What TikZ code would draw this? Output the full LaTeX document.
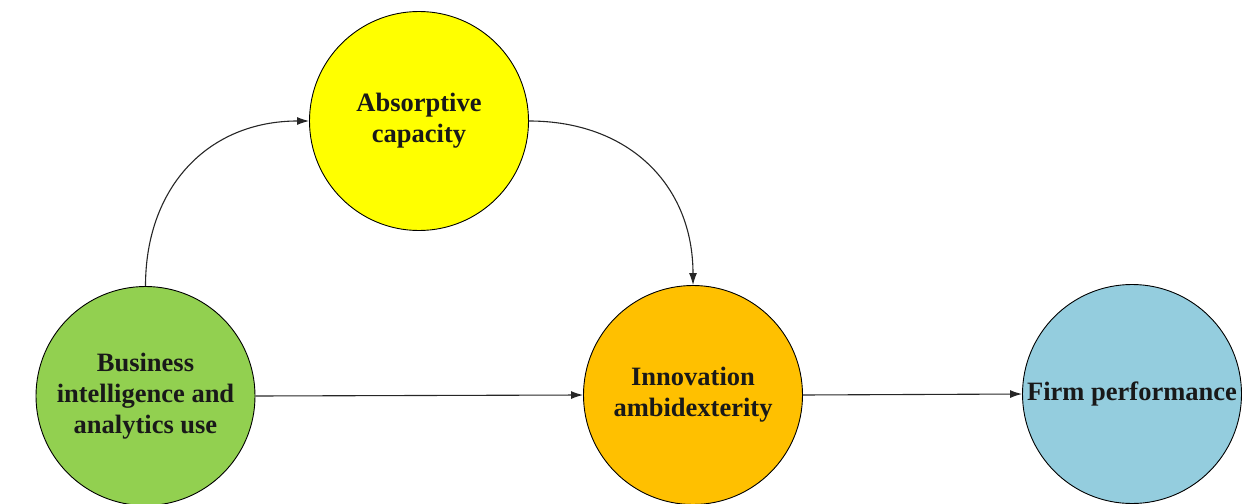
\documentclass[tikz,border=0pt]{standalone}
\usepackage{fontspec}
\setmainfont{Liberation Serif}
\usetikzlibrary{arrows.meta}
\definecolor{cgreen}{RGB}{146,208,80}
\definecolor{cyellow}{RGB}{255,255,0}
\definecolor{corange}{RGB}{255,192,0}
\definecolor{cblue}{RGB}{148,205,222}
\begin{document}
\begin{tikzpicture}[x=1pt,y=-1pt,
  blob/.style={circle, draw=black, line width=0.9pt, minimum size=219pt, inner sep=0pt,
    align=center, text=black!90, font=\fontsize{26.5}{31}\selectfont\bfseries},
  conn/.style={line width=1.1pt, draw=black!85, -{Latex[length=12pt,width=8pt]}}
]
\useasboundingbox (0,0) rectangle (1252,503);
\node[blob, fill=cgreen] (bi) at (145.5,396) {Business\\intelligence and\\analytics use};
\node[blob, fill=cyellow] (ac) at (419,121) {Absorptive\\capacity};
\node[blob, fill=corange] (ia) at (693,395) {Innovation\\ambidexterity};
\node[blob, fill=cblue] (fp) at (1132,394) {Firm performance};
\draw[conn] (bi.north) to[out=90,in=180,looseness=1.1] (ac.west);
\draw[conn] (ac.east) to[out=0,in=90,looseness=1.1] (ia.north);
\draw[conn] (bi.east) -- (ia.west);
\draw[conn] (ia.east) -- (fp.west);
\end{tikzpicture}
\end{document}
